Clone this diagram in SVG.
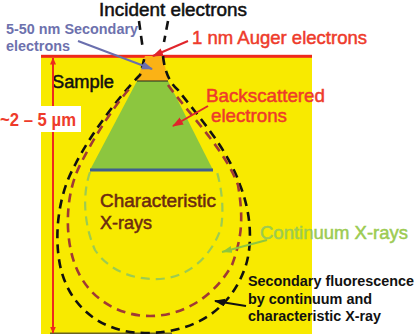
<svg xmlns="http://www.w3.org/2000/svg" width="416" height="334" viewBox="0 0 416 334">
  <defs>
    <marker id="headRed" markerWidth="8" markerHeight="8" refX="6.5" refY="3" orient="auto-start-reverse" markerUnits="userSpaceOnUse">
      <path d="M0 0L7 3L0 6Z" fill="#ee2a1c"/>
    </marker>
    <marker id="headAuger" markerWidth="12" markerHeight="10" refX="10" refY="4" orient="auto" markerUnits="userSpaceOnUse">
      <path d="M0 0L11 4L0 8Z" fill="#e0252b"/>
    </marker>
    <marker id="headBlue" markerWidth="12" markerHeight="10" refX="10" refY="4" orient="auto" markerUnits="userSpaceOnUse">
      <path d="M0 0L11 4L0 8Z" fill="#6a6fae"/>
    </marker>
    <marker id="headGreen" markerWidth="12" markerHeight="10" refX="10" refY="3.5" orient="auto" markerUnits="userSpaceOnUse">
      <path d="M0 0L10 3.5L0 7Z" fill="#8ec63f"/>
    </marker>
    <marker id="headBlack" markerWidth="12" markerHeight="10" refX="10" refY="4" orient="auto" markerUnits="userSpaceOnUse">
      <path d="M0 0L11 4L0 8Z" fill="#111"/>
    </marker>
  </defs>
  <style>
    text { font-family: "Liberation Sans", Arial, sans-serif; }
    .dash { fill: none; stroke-width: 2.6; stroke-dasharray: 9 6; }
    .black { stroke: #111; }
    .maroon { stroke: #a03a35; }
    .pale { stroke: #9ccb52; stroke-width: 2.2; }
    .red { fill: #ee3b2b; }
    .blue { fill: #6d71ad; }
    .med { stroke-width: 0.5; }
  </style>

  <!-- specimen block -->
  <g id="sample">
    <rect x="41" y="56" width="271" height="278" fill="#f8ea00"/>
    <rect x="41" y="54.8" width="271" height="3" fill="#ee2a1c"/>
    <rect x="50" y="332.5" width="122" height="1.5" fill="#6b6420"/>
    <text x="52" y="88" font-size="18" fill="#111" stroke="#111" class="med" textLength="62" lengthAdjust="spacingAndGlyphs">Sample</text>
  </g>

  <!-- interaction volumes -->
  <g id="backscatter-zone">
    <path d="M137 81L168 81L213 170L90 170Z" fill="#8cc63f"/>
    <rect x="90" y="168.5" width="123" height="3" fill="#3f5f8f"/>
  </g>
  <g id="auger-zone">
    <path d="M145 56L163 56L168 81L137 81Z" fill="#fbb215"/>
    <path d="M137 81L168 81" stroke="#222" stroke-width="1" fill="none"/>
  </g>

  <g id="connectors">
    <path class="dash black" d="M139 21L143 50"/>
    <path class="dash black" d="M168 21L164 42"/>
    <path class="dash black" d="M163 56C165 75 172 85 178 90C200 118 228 150 240 185C252 215 252 245 246 265C233 305 200 333 145 333C100 333 68 305 60 265C54 235 58 195 75 165C90 135 120 95 140 75L145 56"/>
    <path class="dash maroon" d="M168 85C190 115 225 150 238 185C243 215 243 235 232 265C215 295 185 316 150 316C115 316 85 295 74 262C65 235 65 195 80 165C95 135 115 105 130 88"/>
    <path class="dash pale" d="M90 172C82 195 84 225 95 250C110 272 135 280 160 279C190 277 212 255 221 228C224 210 222 190 217 172"/>
    <path d="M208 106L173 126" stroke="#e0252b" stroke-width="2" fill="none" marker-end="url(#headAuger)"/>
    <path d="M188 41L153 56" stroke="#e0252b" stroke-width="2" fill="none" marker-end="url(#headAuger)"/>
    <path d="M78 41L152 69" stroke="#6a6fae" stroke-width="2" fill="none" marker-end="url(#headBlue)"/>
    <path d="M267 240L222 252" stroke="#8ec63f" stroke-width="2" fill="none" marker-end="url(#headGreen)"/>
    <path d="M246 306L215 301" stroke="#111" stroke-width="2" fill="none" marker-end="url(#headBlack)"/>
    <path d="M53 333L53 58" stroke="#ee2a1c" stroke-width="2" fill="none" marker-start="url(#headRed)" marker-end="url(#headRed)"/>
  </g>

  <!-- labels -->
  <g id="label-incident">
    <text x="99" y="16" font-size="17.5" fill="#111" stroke="#111" class="med" textLength="148" lengthAdjust="spacingAndGlyphs">Incident electrons</text>
  </g>
  <g id="label-secondary">
    <text x="6" y="34" font-size="14.5" font-weight="bold" class="blue" textLength="132" lengthAdjust="spacingAndGlyphs">5-50 nm Secondary</text>
    <text x="6" y="51" font-size="14.5" font-weight="bold" class="blue" textLength="64" lengthAdjust="spacingAndGlyphs">electrons</text>
  </g>
  <g id="label-auger">
    <text x="192" y="44" font-size="19" class="red med" stroke="#ee3b2b" textLength="175" lengthAdjust="spacingAndGlyphs">1 nm Auger electrons</text>
  </g>
  <g id="label-backscattered">
    <text x="206" y="102" font-size="19" class="red med" stroke="#ee3b2b" textLength="119" lengthAdjust="spacingAndGlyphs">Backscattered</text>
    <text x="211" y="122" font-size="19" class="red med" stroke="#ee3b2b" textLength="76" lengthAdjust="spacingAndGlyphs">electrons</text>
  </g>
  <g id="label-depth">
    <rect x="0" y="106" width="81" height="26" fill="#fff"/>
    <text x="0" y="126" font-size="18.5" font-weight="bold" class="red" textLength="76" lengthAdjust="spacingAndGlyphs">~2 – 5 µm</text>
  </g>
  <g id="label-characteristic">
    <text x="100" y="207" font-size="18.5" fill="#6b2a12" stroke="#6b2a12" class="med" textLength="116" lengthAdjust="spacingAndGlyphs">Characteristic</text>
    <text x="100" y="229" font-size="18.5" fill="#6b2a12" stroke="#6b2a12" class="med" textLength="52" lengthAdjust="spacingAndGlyphs">X-rays</text>
  </g>
  <g id="label-continuum">
    <text x="260" y="239" font-size="18.5" fill="#9ccb52" stroke="#9ccb52" class="med" textLength="148" lengthAdjust="spacingAndGlyphs">Continuum X-rays</text>
  </g>
  <g id="label-fluorescence">
    <text x="248" y="286" font-size="14.5" font-weight="bold" fill="#111" textLength="166" lengthAdjust="spacingAndGlyphs">Secondary fluorescence</text>
    <text x="248" y="304" font-size="14.5" font-weight="bold" fill="#111" textLength="124" lengthAdjust="spacingAndGlyphs">by continuum and</text>
    <text x="248" y="321" font-size="14.5" font-weight="bold" fill="#111" textLength="133" lengthAdjust="spacingAndGlyphs">characteristic X-ray</text>
  </g>
</svg>
